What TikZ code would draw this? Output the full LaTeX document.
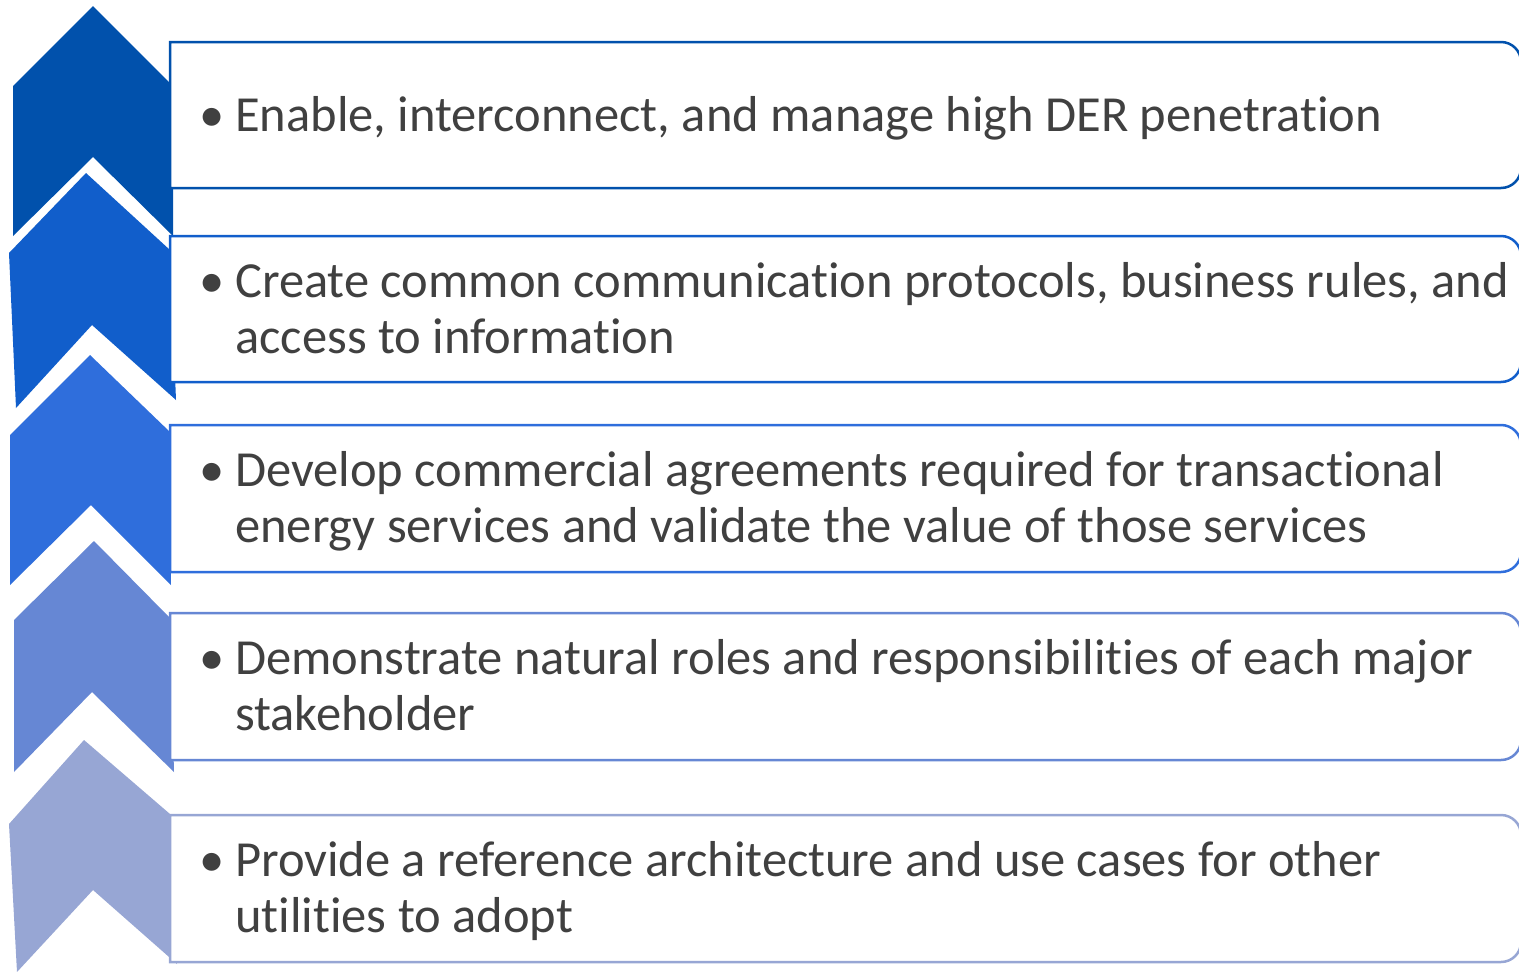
\documentclass[tikz,border=0pt]{standalone}
\usepackage{fontspec}
\setmainfont{Carlito}[Ligatures=NoCommon]
\definecolor{cA}{HTML}{0151AC}
\definecolor{cB}{HTML}{115ECB}
\definecolor{cC}{HTML}{2F6EDC}
\definecolor{cD}{HTML}{6687D4}
\definecolor{cE}{HTML}{97A6D4}
\definecolor{txtgray}{HTML}{404040}
\tikzset{
  chev/.style={fill=#1, draw=none},
  itembox/.style={draw=#1, line width=2.5pt, fill=white},
  item/.style={anchor=base west, inner sep=0pt, align=left, text=txtgray,
    font=\fontsize{50.5}{56}\selectfont},
}
\newcommand{\bul}{\makebox[35pt][l]{\hspace*{-1pt}\textbullet}}
\newcommand{\ind}{\hspace*{35pt}}
\newcommand{\itembox}[3]{% color, top, bottom
  \draw[itembox=#1] (170,-#2) -- (1501,-#2) arc[start angle=90,end angle=0,radius=20]
    -- (1521,{-#3+20}) arc[start angle=0,end angle=-90,radius=20] -- (170,-#3) -- cycle;}
\begin{document}
\begin{tikzpicture}[x=1pt,y=1pt]
\useasboundingbox (0,0) rectangle (1519,-972);
\clip (0,0) rectangle (1519,-972);
% chevrons
\fill[chev=cA] (93,-6) -- (173,-86) -- (173,-236) -- (93,-157) -- (13,-236) -- (13,-86) -- cycle;
\fill[chev=cB] (86,-173) -- (170,-250) -- (176,-400) -- (92,-325) -- (16,-408) -- (9,-253) -- cycle;
\fill[chev=cC] (90,-355) -- (170,-432) -- (171,-585) -- (91,-505) -- (10,-585) -- (10,-435) -- cycle;
\fill[chev=cD] (94,-541) -- (170,-618) -- (174,-772) -- (92,-692) -- (14,-772) -- (14,-620) -- cycle;
\fill[chev=cE] (84,-740) -- (170,-814) -- (177,-964) -- (93,-890) -- (17,-972) -- (9,-824) -- cycle;
% boxes
\itembox{cA}{42}{188}
\itembox{cB}{236}{382}
\itembox{cC}{425}{572}
\itembox{cD}{613}{760}
\itembox{cE}{815}{962}
% texts (anchored at the baseline of the last line)
\node[item] (t1) at (200,-131) {\bul Enable, interconnect, and manage high DER penetration};
\node[item] (t2) at (200,-353) {\bul Create common communication protocols, business rules, and\\\ind access to information};
\node[item] (t3) at (200,-542) {\bul Develop commercial agreements required for transactional\\\ind energy services and validate the value of those services};
\node[item] (t4) at (200,-730) {\bul Demonstrate natural roles and responsibilities of each major\\\ind stakeholder};
\node[item] (t5) at (200,-932) {\bul Provide a reference architecture and use cases for other\\\ind utilities to adopt};
\end{tikzpicture}
\end{document}
